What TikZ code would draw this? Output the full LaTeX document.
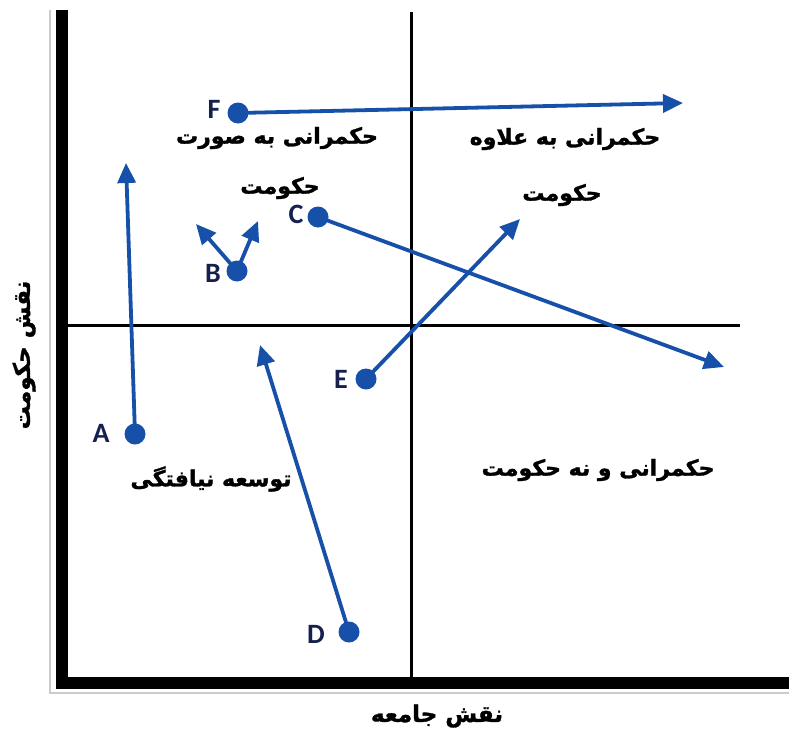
\documentclass[tikz,border=0pt]{standalone}
\usepackage{fontspec}
\setsansfont{Carlito}
\newfontfamily\arabicfont[Script=Arabic,FakeBold=1.4]{DejaVu Sans}
\TeXXeTstate=1
\usetikzlibrary{arrows.meta}
\definecolor{ptblue}{RGB}{22,80,168}
\definecolor{lblnavy}{RGB}{22,32,78}
\begin{document}
\begin{tikzpicture}[x=1pt,y=-1pt,
  dot/.style={circle,fill=ptblue,inner sep=0pt,minimum size=21pt},
  ptlbl/.style={font=\sffamily\bfseries\fontsize{28}{28}\selectfont,text=lblnavy,inner sep=0pt},
  arr/.style={draw=ptblue,line width=3.8pt,-{Triangle[length=20pt,width=18pt]}},
  fa/.style={font=\arabicfont\bfseries\fontsize{22}{22}\selectfont,inner sep=0pt}]
\useasboundingbox (0,0) rectangle (789,736);
\fill[white] (0,0) rectangle (789,736);
% frame
\draw[gray!40,line width=1.2pt] (50,10) -- (50,693) -- (789,693);
\draw[black,line width=3pt] (411,12) -- (411,680);
\draw[black,line width=3pt] (67,325) -- (740,325);
\fill[black] (56,10) rectangle (68,689);
\fill[black] (56,677) rectangle (789,689);
% points
\node[dot] (dF) at (238,113) {};
\node[dot] (dC) at (318,217) {};
\node[dot] (dB) at (237,271) {};
\node[dot] (dA) at (135,434) {};
\node[dot] (dE) at (366,379) {};
\node[dot] (dD) at (349,632) {};
\node[ptlbl] (lF) at (214,109) {F};
\node[ptlbl] (lC) at (296,214) {C};
\node[ptlbl] (lB) at (213,273) {B};
\node[ptlbl] (lA) at (101,433) {A};
\node[ptlbl] (lE) at (341,379) {E};
\node[ptlbl] (lD) at (316,634) {D};
\coordinate (tF) at (683,103);
\coordinate (tC) at (724,367);
\coordinate (tB1) at (196,224);
\coordinate (tB2) at (258,221);
\coordinate (tA) at (126,163);
\coordinate (tE) at (520,219);
\coordinate (tD) at (260,345);
\draw[arr] (dF.center) -- (tF);
\draw[arr] (dC.center) -- (tC);
\draw[arr] (dB.center) -- (tB1);
\draw[arr] (dB.center) -- (tB2);
\draw[arr] (dA.center) -- (tA);
\draw[arr] (dE.center) -- (tE);
\draw[arr] (dD.center) -- (tD);
% texts
\node[fa] (t1) at (277,138) {\beginR حکمرانی به صورت\endR};
\node[fa] (t2) at (280,188) {\beginR حکومت\endR};
\node[fa] (t3) at (565,139) {\beginR حکمرانی به علاوه\endR};
\node[fa] (t4) at (562,195) {\beginR حکومت\endR};
\node[fa] (t5) at (211,479) {\beginR توسعه نیافتگی\endR};
\node[fa] (t6) at (598,470) {\beginR حکمرانی و نه حکومت\endR};
\node[fa,font=\arabicfont\bfseries\fontsize{23}{23}\selectfont] (t7) at (437,716) {\beginR نقش جامعه\endR};
\node[fa,rotate=90,font=\arabicfont\bfseries\fontsize{23}{23}\selectfont] (t8) at (24,355) {\beginR نقش حکومت\endR};
\end{tikzpicture}
\end{document}
